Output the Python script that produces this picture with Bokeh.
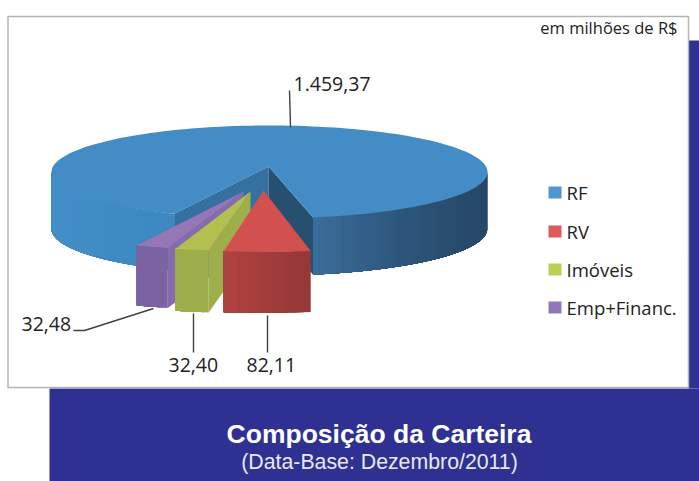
import math
from bokeh.plotting import figure
from bokeh.embed import file_html
from bokeh.resources import INLINE
from bokeh.core.properties import value

# ---- data ----
categories = ["RF", "RV", "Imóveis", "Emp+Financ."]
values = [1459.37, 82.11, 32.40, 32.48]
value_labels = ["1.459,37", "82,11", "32,40", "32,48"]
unit_label = "em milhões de R$"
title = "Composição da Carteira"
subtitle = "(Data-Base: Dezembro/2011)"

# ---- style / geometry ----
W, H = 699, 481
p = figure(width=W, height=H, output_backend="svg", toolbar_location=None,
           x_range=(0, W), y_range=(H, 0), min_border=0,
           outline_line_color=None, background_fill_color="white",
           border_fill_color="white")
p.axis.visible = False
p.grid.visible = False

NAVY = "#2e3192"
p.quad(left=[49], right=[700], top=[388], bottom=[482], color=NAVY, line_color=None)
p.quad(left=[688], right=[700], top=[40], bottom=[388], color=NAVY, line_color=None)
p.quad(left=[7.5], right=[688], top=[16], bottom=[387], fill_color="white",
       line_color="#b4b4b4", line_width=1.5)

CX, CY, RX, RY, DEPTH = 269, 171.5, 218, 46.5, 57
APEX = (268, 166)
START = 80
total = sum(values)


def hexmix(a, b, f):
    ca = [int(a[i:i + 2], 16) for i in (1, 3, 5)]
    cb = [int(b[i:i + 2], 16) for i in (1, 3, 5)]
    return "#%02x%02x%02x" % tuple(round(x + (y - x) * f) for x, y in zip(ca, cb))


def arc(cx, cy, sx, sy, t0, t1, n=40):
    ts = [t0 + (t1 - t0) * i / n for i in range(n + 1)]
    return ([cx + sx * RX * math.cos(math.radians(t)) for t in ts],
            [cy + sy * RY * math.sin(math.radians(t)) for t in ts])


def patch(xs, ys, color):
    p.patch(xs, ys, fill_color=color, line_color=None)


def rim(cx, cy, sx, sy, t0, t1, c0, c1, depth, n=24, ease=1.0):
    # each band runs on to the far end of the rim and is painted over by the next,
    # so that no seams show between the bands
    for i in range(n):
        a = t0 + (t1 - t0) * i / n
        x, y = arc(cx, cy, sx, sy, a, t1, 12)
        patch(x + x[::-1], y + [v + depth for v in y[::-1]],
              hexmix(c0, c1, ((i + .5) / n) ** ease))


# angular extents from the values, running clockwise on screen from START
sweep = [v / total * 360 for v in values]
rv0 = START
rv1 = rv0 + sweep[1]
im1 = rv1 + sweep[2]
em1 = im1 + sweep[3]
main0 = em1 + 3
main1 = main0 + sweep[0] - 4.5

# main slice
rim(CX, CY, 1, 1, main0, 180, "#3f88c1", "#4290c9", DEPTH)
rim(CX, CY, 1, 1, 360, main1, "#264869", "#3b6e9b", DEPTH, 50, ease=2.5)
lx, ly = arc(CX, CY, 1, 1, main0, main0, 1)
rx, ry = arc(CX, CY, 1, 1, main1, main1, 1)
patch([APEX[0], lx[0], lx[0], APEX[0]], [APEX[1], ly[0], ly[0] + DEPTH, APEX[1] + DEPTH], "#3570a3")
patch([APEX[0], rx[0], rx[0], APEX[0]], [APEX[1], ry[0], ry[0] + DEPTH, APEX[1] + DEPTH], "#274f70")
tx, ty = arc(CX, CY, 1, 1, main0, main1, 160)
patch([APEX[0]] + tx, [APEX[1]] + ty, "#438cc5")

# exploded slices, back to front: apex x, apex y, rim centre x, x scale, y scale, angles, colours, depth
slices = [
    (243, 191, 237, 1.185, 1.26, im1, em1, "#9577b8", "#7b62a1", "#7b62a1", "#866cad", 60),
    (250, 191, 247, 1.22, 1.28, rv1, im1, "#b3c050", "#9dae4a", "#9dae4a", "#9dae4a", 62),
    (263, 190, 263, 1.247, 1.32, rv0, rv1, "#d2514f", "#933836", "#b04240", "#a84140", 61),
]
for ax, ay, cx, sx, sy, t0, t1, top, c_r, c_l, inner, d in slices:
    x, y = arc(cx, ay, sx, sy, t0, t1, 30)
    if x[0] < ax:  # the cut face turned to the viewer
        patch([ax, x[0], x[0], ax], [ay, y[0], y[0] + d, ay + d], inner)
    rim(cx, ay, sx, sy, t0, t1, c_r, c_l, d, 12)
    patch([ax] + x, [ay] + y, top)

# leader lines
LC = "#404040"
for xs, ys in [([289, 290], [90, 127]), ([267, 267], [315, 352]),
               ([193, 193], [313, 352]), ([153, 84, 73], [308, 330, 330])]:
    p.line(xs, ys, line_color=LC, line_width=1.4)

FONT = "Open Sans"
p.text([293, 246, 168, 21], [83, 364, 364, 323],
       text=[value_labels[0], value_labels[1], value_labels[2], value_labels[3]],
       text_font=value(FONT), text_font_size="19.5px", text_color="#222222",
       text_baseline="middle", text_align="left")
p.text([677], [27], text=[unit_label], text_font=value(FONT), text_font_size="16.5px",
       text_color="#222222", text_baseline="middle", text_align="right")

# legend
leg_y = [192, 231, 269, 307]
leg_c = ["#4f96cf", "#e0585a", "#bccf55", "#9177b8"]
p.quad(left=[548] * 4, right=[561] * 4, top=[y - 6 for y in leg_y],
       bottom=[y + 6 for y in leg_y], color=leg_c, line_color=None)
p.text([566] * 4, leg_y, text=categories, text_font=value(FONT), text_font_size="18.5px",
       text_color="#222222", text_baseline="middle", text_align="left")

# caption
p.text([378.5], [433], text=[title], text_font=value("Liberation Sans"), text_font_style="bold",
       text_font_size="26.5px", text_color="white", text_baseline="middle", text_align="center")
p.text([379], [461], text=[subtitle], text_font=value("Liberation Sans"),
       text_font_size="21.3px", text_color="#e8e8f4", text_baseline="middle", text_align="center")

open("out.html", "w").write(file_html(p, INLINE))
